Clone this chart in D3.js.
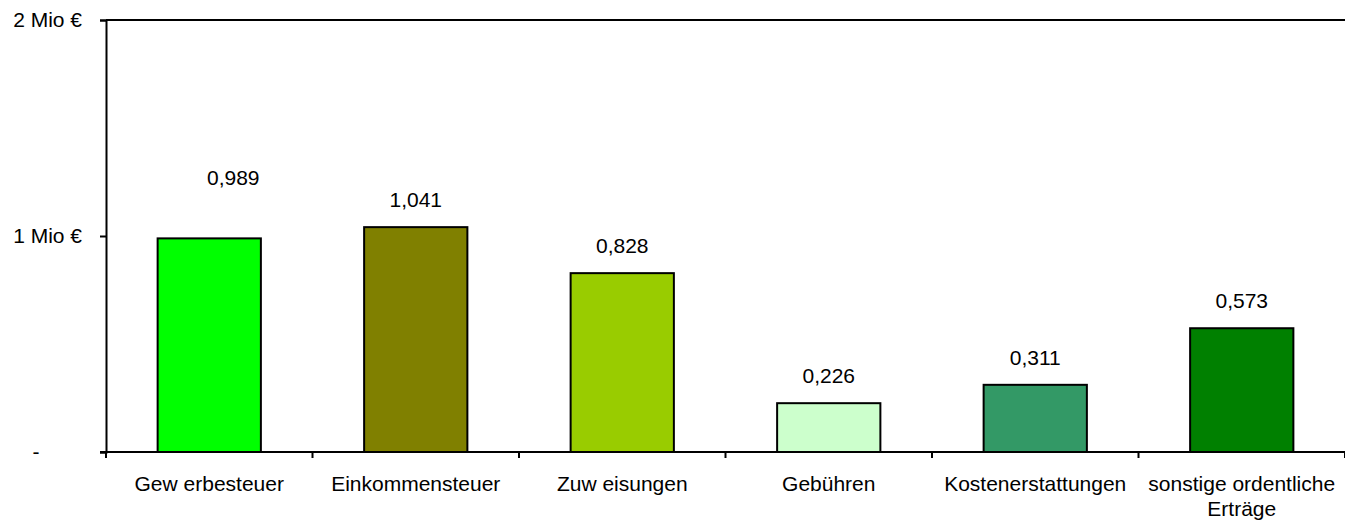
<!DOCTYPE html>
<html lang="de">
<head>
    <meta charset="UTF-8">
    <title>Erträge</title>
    <script src="https://cdnjs.cloudflare.com/ajax/libs/d3/7.6.1/d3.min.js"></script>
    <style>
        body { margin: 0; background: #fff; }
        svg text { font-family: "Liberation Sans", Arial, sans-serif; fill: #000; }
    </style>
</head>
<body>
    <div id="chart"></div>
    <script>
        // data (Mio €)
        var categories = ['Gew erbesteuer', 'Einkommensteuer', 'Zuw eisungen', 'Gebühren',
                          'Kostenerstattungen', 'sonstige ordentliche\nErträge'];
        var values = [0.989, 1.041, 0.828, 0.226, 0.311, 0.573];
        var colors = ['#00ff00', '#808000', '#99cc00', '#ccffcc', '#339966', '#008000'];
        var yTicks = [0, 1, 2];

        var w = 1345,
            h = 525,
            padLeft = 106,
            padRight = 1345,
            padTop = 20,
            padBottom = 452,
            fontSize = 21;

        var de = d3.formatLocale({decimal: ',', thousands: '.', grouping: [3], currency: ['', ' €']});
        var valFmt = de.format('.3f');

        var svg = d3.select('#chart')
                    .append('svg')
                    .attr('width', w)
                    .attr('height', h);

        var xScale = d3.scaleBand()
                       .domain(categories)
                       .range([padLeft, padRight])
                       .paddingInner(0.5)
                       .paddingOuter(0.25);
        var step = xScale.step();

        var yScale = d3.scaleLinear()
                       .domain([0, 2])
                       .range([padBottom, padTop]);

        // top border of the plot area
        svg.append('line')
           .attr('x1', padLeft).attr('x2', padRight)
           .attr('y1', yScale(2)).attr('y2', yScale(2))
           .attr('stroke', '#000').attr('stroke-width', 2);

        // BARS
        svg.selectAll('rect.bar')
           .data(values)
           .enter()
           .append('rect')
           .attr('class', 'bar')
           .attr('x', (d, i) => xScale(categories[i]))
           .attr('y', (d) => yScale(d))
           .attr('width', xScale.bandwidth())
           .attr('height', (d) => yScale(0) - yScale(d))
           .attr('fill', (d, i) => colors[i])
           .attr('stroke', '#000')
           .attr('stroke-width', 2);

        // VALUE LABELS (the first one was moved by hand in the original)
        svg.selectAll('text.val')
           .data(values)
           .enter()
           .append('text')
           .attr('class', 'val')
           .attr('x', (d, i) => xScale(categories[i]) + xScale.bandwidth() / 2 + (i === 0 ? 24 : 0))
           .attr('y', (d, i) => yScale(d) - 20 - (i === 0 ? 33 : 0))
           .attr('text-anchor', 'middle')
           .style('font-size', fontSize + 'px')
           .text((d) => valFmt(d));

        // Y-AXIS
        var yAxis = d3.axisLeft(yScale)
                      .tickValues(yTicks)
                      .tickSize(6)
                      .tickPadding(18)
                      .tickFormat((d) => d === 0 ? '-' : d + ' Mio €');
        var gy = svg.append('g')
                    .attr('transform', 'translate(' + padLeft + ',0)')
                    .call(yAxis);
        gy.select('.domain').attr('stroke-width', 2);
        gy.selectAll('.tick line').attr('stroke-width', 2);
        gy.selectAll('.tick text')
          .style('font-size', fontSize + 'px')
          .style('font-family', '"Liberation Sans", Arial, sans-serif')
          .filter((d) => d === 0)
          .attr('x', -70)
          .attr('text-anchor', 'middle');

        // X-AXIS
        svg.append('line')
           .attr('x1', padLeft - 6).attr('x2', padRight)
           .attr('y1', padBottom).attr('y2', padBottom)
           .attr('stroke', '#000').attr('stroke-width', 2);

        svg.selectAll('line.xtick')
           .data(d3.range(categories.length + 1))
           .enter()
           .append('line')
           .attr('class', 'xtick')
           .attr('x1', (i) => padLeft + i * step)
           .attr('x2', (i) => padLeft + i * step)
           .attr('y1', padBottom)
           .attr('y2', padBottom + 6)
           .attr('stroke', '#000')
           .attr('stroke-width', 2);

        var xl = svg.selectAll('text.cat')
                    .data(categories)
                    .enter()
                    .append('text')
                    .attr('class', 'cat')
                    .attr('text-anchor', 'middle')
                    .attr('y', padBottom + 39)
                    .style('font-size', fontSize + 'px');
        xl.each(function (d) {
            var t = d3.select(this);
            d.split('\n').forEach((line, k) => {
                t.append('tspan')
                 .attr('x', xScale(d) + xScale.bandwidth() / 2)
                 .attr('dy', k === 0 ? 0 : 25)
                 .text(line);
            });
        });
    </script>
</body>
</html>
